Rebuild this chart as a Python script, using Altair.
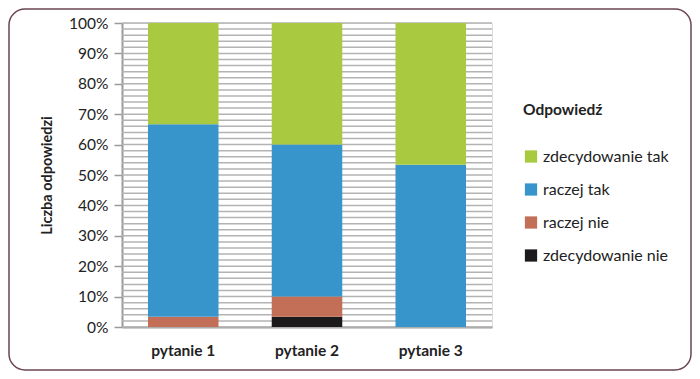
import altair as alt
import pandas as pd

questions = ["pytanie 1", "pytanie 2", "pytanie 3"]
answers = ["zdecydowanie nie", "raczej nie", "raczej tak", "zdecydowanie tak"]
colors = ["#1c1a1a", "#c36f58", "#3895cc", "#a8c940"]
# counts per answer (rows follow `answers`, columns follow `questions`)
zdecydowanie_nie = [0, 1, 0]
raczej_nie = [1, 2, 0]
raczej_tak = [19, 15, 16]
zdecydowanie_tak = [10, 12, 14]
series = [zdecydowanie_nie, raczej_nie, raczej_tak, zdecydowanie_tak]

grid_values = [i / 50 for i in range(51)]
tick_values = [i / 10 for i in range(11)]

rows = []
for ai, (ans, vals) in enumerate(zip(answers, series)):
    for q, v in zip(questions, vals):
        rows.append({"pytanie": q, "odp": ans, "n": v, "idx": ai})
df = pd.DataFrame(rows)

FONT = "Lato"

y_axis = alt.Axis(values=tick_values, format=".0%", grid=False,
                  labelFont=FONT, labelFontSize=15.5, labelColor="#222222",
                  labelPadding=6, tickSize=8, tickColor="#9a9a9a",
                  tickWidth=1.5, domainColor="#9a9a9a", domainWidth=2,
                  titleFont=FONT, titleFontSize=14.5, titleFontWeight="bold",
                  titleColor="#222222", titlePadding=14)
y_scale = alt.Scale(domain=[0, 1], nice=False)

grid = alt.Chart(pd.DataFrame({"g": grid_values})).mark_rule(
    color="#b3b3b3", strokeWidth=1.5
).encode(y=alt.Y("g:Q", scale=y_scale, axis=y_axis, title="Liczba odpowiedzi"))

bars = alt.Chart(df).mark_bar().encode(
    x=alt.X("pytanie:N", sort=questions, title=None,
            scale=alt.Scale(paddingInner=0.43, paddingOuter=0.21),
            axis=alt.Axis(labelAngle=0, labelFont=FONT, labelFontSize=15.5,
                          labelFontWeight="bold", labelColor="#222222",
                          labelPadding=16, ticks=False, domainColor="#9a9a9a",
                          domainWidth=2)),
    y=alt.Y("n:Q", stack="normalize", title="Liczba odpowiedzi",
            scale=y_scale, axis=y_axis),
    color=alt.Color("odp:N", scale=alt.Scale(domain=answers, range=colors),
                    legend=alt.Legend(title="Odpowiedź", orient="none",
                                      values=list(reversed(answers)),
                                      legendX=401, legendY=80,
                                      titleFont=FONT, titleFontSize=15.5,
                                      titleFontWeight="bold", titleColor="#222222",
                                      titlePadding=30, labelFont=FONT,
                                      labelFontSize=16, labelColor="#222222",
                                      symbolType="square", symbolSize=150,
                                      symbolStrokeWidth=0, rowPadding=17,
                                      labelOffset=4)),
    order=alt.Order("idx:Q", sort="ascending"),
)

frame = alt.Chart(alt.Data(values=[{}])).mark_rect(
    fill=None, stroke="#6b4550", strokeWidth=1.5, cornerRadius=16
).encode(
    x=alt.value(-113), x2=alt.value(569), y=alt.value(-14), y2=alt.value(347)
)

chart = alt.layer(frame, grid, bars).properties(
    width=370, height=304,
    autosize=alt.AutoSizeParams(type="none"),
    padding={"left": 114, "top": 15, "right": 200, "bottom": 44},
).configure_view(stroke=None).configure(background="white")

chart.save("out.html", embed_options={"renderer": "svg", "actions": False})
